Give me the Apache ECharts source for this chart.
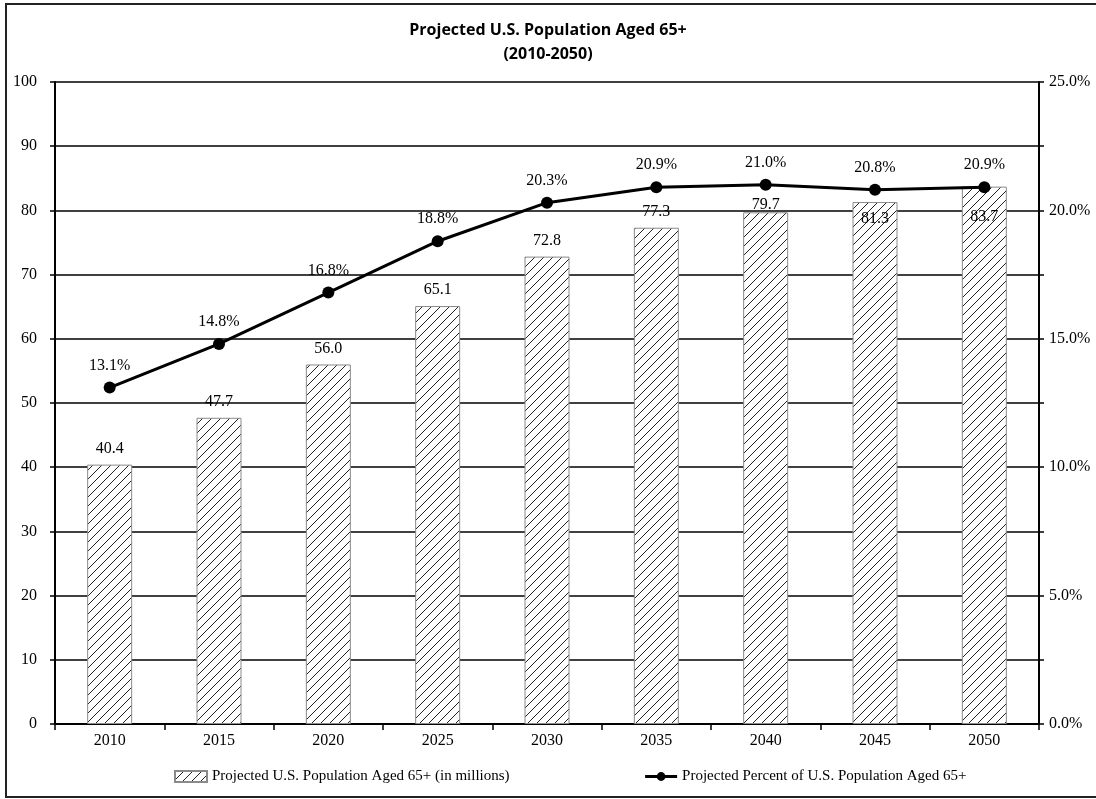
<!DOCTYPE html>
<html>
<head>
<meta charset="utf-8">
<script src="https://cdn.jsdelivr.net/npm/echarts@6/dist/echarts.min.js"></script>
<style>
  html, body { margin: 0; padding: 0; background: #fff; }
  #chart { width: 1096px; height: 799px; }
</style>
</head>
<body>
<div id="chart"></div>
<script>
// Projection years and values
const years = ['2010', '2015', '2020', '2025', '2030', '2035', '2040', '2045', '2050'];
const populationMillions = [40.4, 47.7, 56.0, 65.1, 72.8, 77.3, 79.7, 81.3, 83.7];
const percentOfPopulation = [13.1, 14.8, 16.8, 18.8, 20.3, 20.9, 21.0, 20.8, 20.9];
const leftTicks = [0, 10, 20, 30, 40, 50, 60, 70, 80, 90, 100];
const rightTickLabels = ['0.0%', '5.0%', '10.0%', '15.0%', '20.0%', '25.0%'];

const serif = '"Liberation Serif", "Times New Roman", serif';

// Diagonal hatch fill for the bars
function makeHatch() {
  const s = 9;
  const c = document.createElement('canvas');
  c.width = s; c.height = s;
  const g = c.getContext('2d');
  g.fillStyle = '#fff';
  g.fillRect(0, 0, s, s);
  g.strokeStyle = '#222';
  g.lineWidth = 1;
  g.beginPath();
  g.moveTo(0, s); g.lineTo(s, 0);
  g.moveTo(-s / 2, s / 2); g.lineTo(s / 2, -s / 2);
  g.moveTo(s / 2, s + s / 2); g.lineTo(s + s / 2, s / 2);
  g.stroke();
  return c;
}
const hatch = { image: makeHatch(), repeat: 'repeat' };

// Bar value labels that would collide with the line get nudged
const barLabelOffsets = { '2040': [0, 8], '2045': [0, 33], '2050': [0, 46] };

const chart = echarts.init(document.getElementById('chart'), null, { renderer: 'canvas' });

chart.setOption({
  backgroundColor: '#fff',
  animation: false,
  title: {
    text: 'Projected U.S. Population Aged 65+\n(2010-2050)',
    left: 'center',
    top: 13,
    textStyle: {
      fontFamily: '"Open Sans", sans-serif',
      fontWeight: 'bold',
      fontSize: 16,
      lineHeight: 24,
      color: '#000'
    }
  },
  legend: {
    left: 169,
    top: 764,
    itemGap: 134,
    itemWidth: 32,
    itemHeight: 11,
    textStyle: { fontFamily: serif, fontSize: 15, color: '#000' },
    data: [
      { name: 'Projected U.S. Population Aged 65+ (in millions)', icon: 'rect' },
      { name: 'Projected Percent of U.S. Population Aged 65+', lineStyle: { width: 3, color: '#000' } }
    ]
  },
  graphic: [{
    type: 'rect',
    shape: { x: 6, y: 4, width: 1100, height: 793 },
    style: { fill: 'none', stroke: '#222', lineWidth: 2 },
    silent: true
  }],
  grid: { left: 55, right: 57, top: 82, bottom: 75, containLabel: false },
  xAxis: {
    type: 'category',
    data: years,
    axisLine: { lineStyle: { color: '#000', width: 2 } },
    axisTick: { show: true, length: 6, inside: false, alignWithLabel: false, lineStyle: { color: '#000', width: 1.5 } },
    axisLabel: { fontFamily: serif, fontSize: 16, color: '#000', margin: 9 }
  },
  yAxis: [{
    type: 'value',
    min: leftTicks[0],
    max: leftTicks[leftTicks.length - 1],
    interval: 10,
    axisLine: { show: true, lineStyle: { color: '#000', width: 2 } },
    axisTick: { show: true, length: 5, lineStyle: { color: '#000', width: 1.5 } },
    axisLabel: { fontFamily: serif, fontSize: 16, color: '#000', margin: 18 },
    splitLine: { show: true, lineStyle: { color: '#000', width: 1.5 } }
  }, {
    type: 'value',
    min: 0,
    max: 25,
    interval: 2.5,
    position: 'right',
    axisLine: { show: true, lineStyle: { color: '#000', width: 2 } },
    axisTick: { show: true, length: 5, lineStyle: { color: '#000', width: 1.5 } },
    axisLabel: {
      fontFamily: serif, fontSize: 16, color: '#000', margin: 10,
      formatter: v => (Math.abs(v % 5) < 1e-9 ? rightTickLabels[Math.round(v / 5)] : '')
    },
    splitLine: { show: false }
  }],
  series: [{
    name: 'Projected U.S. Population Aged 65+ (in millions)',
    type: 'bar',
    yAxisIndex: 0,
    barWidth: 45,
    data: populationMillions.map((v, i) => ({
      value: v,
      label: barLabelOffsets[years[i]] ? { offset: barLabelOffsets[years[i]] } : undefined
    })),
    itemStyle: { color: hatch, borderColor: '#8a8a8a', borderWidth: 1 },
    label: {
      show: true,
      position: 'top',
      distance: 8,
      fontFamily: serif,
      fontSize: 16,
      color: '#000',
      formatter: p => p.value.toFixed(1)
    },
    z: 2
  }, {
    name: 'Projected Percent of U.S. Population Aged 65+',
    type: 'line',
    yAxisIndex: 1,
    data: percentOfPopulation,
    symbol: 'circle',
    symbolSize: 12,
    lineStyle: { color: '#000', width: 3 },
    itemStyle: { color: '#000' },
    label: {
      show: true,
      position: 'top',
      distance: 8,
      fontFamily: serif,
      fontSize: 16,
      color: '#000',
      formatter: p => p.value.toFixed(1) + '%'
    },
    z: 5
  }]
});
</script>
</body>
</html>
